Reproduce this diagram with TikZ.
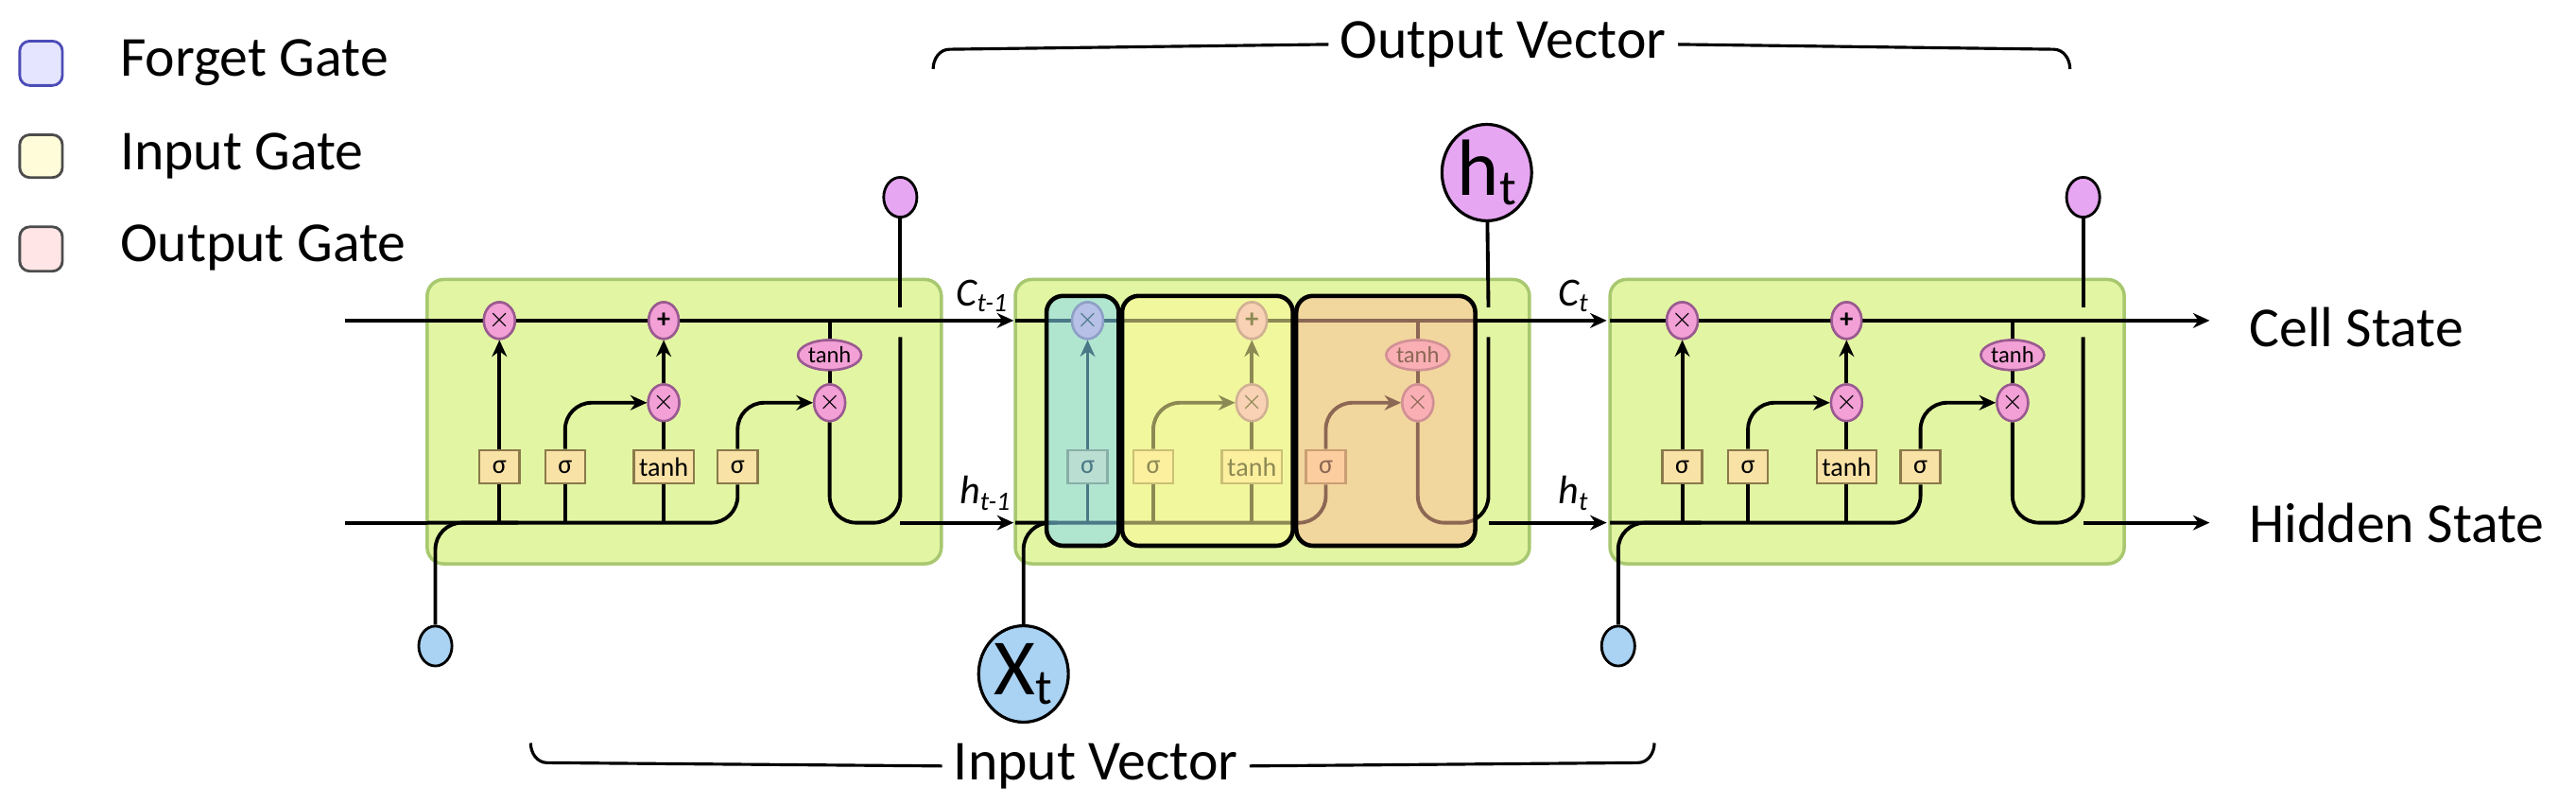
\documentclass[tikz,border=0pt]{standalone}
\usepackage{fontspec}
\setmainfont{Carlito}
\usetikzlibrary{arrows.meta,shapes.geometric}
\definecolor{cellg}{HTML}{E2F5A3}
\definecolor{cellb}{HTML}{A8C870}
\definecolor{opp}{HTML}{F2A0D6}
\definecolor{opb}{HTML}{9A5A90}
\definecolor{sgf}{HTML}{F9E2A6}
\definecolor{sgb}{HTML}{8A7A4A}
\definecolor{vio}{HTML}{E6A6F2}
\definecolor{blu}{HTML}{A9D2F3}
\tikzset{
 ln/.style={line width=1.1pt,black},
 ar/.style={ln,-{Stealth[length=5pt,width=4.5pt]}},
 rc/.style={rounded corners=8pt},
 op/.style={ellipse,draw=opb,fill=opp,line width=0.7pt,minimum width=9pt,minimum height=11pt,inner sep=0pt,font=\bfseries\footnotesize},
 sg/.style={rectangle,draw=sgb,fill=sgf,line width=0.7pt,minimum width=12pt,minimum height=10pt,inner sep=0.5pt,font=\footnotesize},
 th/.style={ellipse,draw=opb,fill=opp,line width=0.7pt,minimum width=19pt,minimum height=9pt,inner sep=0pt,font=\scriptsize},
 cell/.style={rounded corners=5pt,fill=cellg,draw=cellb,line width=1pt},
 sc/.style={ellipse,draw=black,line width=0.8pt,minimum width=10pt,minimum height=12pt,inner sep=0pt},
 bc/.style={ellipse,draw=black,line width=0.9pt,minimum width=27pt,minimum height=29pt,inner sep=0pt,font=\fontsize{24}{24}\selectfont},
 lab/.style={font=\fontsize{12}{12}\selectfont\itshape},
 big/.style={font=\fontsize{17}{17}\selectfont},
 ovl/.style={rounded corners=5pt,draw=black,line width=1.3pt,fill opacity=0.55},
}
\newcommand\lstmcell[2]{%
 \begin{scope}[xshift=#2*0.01738cm]
 \draw[cell] (260,170) rectangle (573,343);
 \node[op] (#1m1) at (304,195) {$\times$};
 \node[op] (#1a) at (404,195) {+};
 \node[op] (#1m2) at (404,245) {$\times$};
 \node[th] (#1th) at (505,216) {tanh};
 \node[op] (#1m3) at (505,245) {$\times$};
 \node[sg] (#1s1) at (304,284) {σ};
 \node[sg] (#1s2) at (344,284) {σ};
 \node[sg,minimum width=18pt] (#1tb) at (404,284) {tanh};
 \node[sg] (#1s3) at (449,284) {σ};
 \coordinate (#1in) at (265,318);
 \coordinate (#1out) at (548,318);
 \coordinate (#1top) at (548,187);
 \coordinate (#1mid) at (548,205);
 \coordinate (#1hl) at (260,318);
 \coordinate (#1c) at (505,195);
 \end{scope}
 \draw[ln,rc] (#1s3.south) |- (#1hl);
 \draw[ln] (#1s1.south) -- (#1s1.south|-#1hl);
 \draw[ln] (#1s2.south) -- (#1s2.south|-#1hl);
 \draw[ln] (#1tb.south) -- (#1tb.south|-#1hl);
 \draw[ar] (#1s1) -- (#1m1);
 \draw[ar,rc] (#1s2.north) |- (#1m2.west);
 \draw[ln] (#1tb) -- (#1m2);
 \draw[ar] (#1m2) -- (#1a);
 \draw[ar,rc] (#1s3.north) |- (#1m3.west);
 \draw[ln] (#1c) -- (#1th) -- (#1m3);
 \draw[ln,rc] (#1m3.south) |- (#1out) -- (#1mid);
 \node[op] at (#1m1) {$\times$};
 \node[op] at (#1a) {+};
 \node[op] at (#1m2) {$\times$};
 \node[th] at (#1th) {tanh};
 \node[op] at (#1m3) {$\times$};
}
\begin{document}
\begin{tikzpicture}[x=0.01738cm,y=-0.01738cm]
\useasboundingbox (0,0) rectangle (1568,489);
% legend
\draw[rounded corners=3pt,draw=blue!60!black!70,fill=blue!10,line width=0.8pt] (12,25) rectangle (38,52);
\node[big,anchor=west] (lf) at (66,38) {Forget Gate};
\draw[rounded corners=3pt,draw=black!70,fill=yellow!15,line width=0.8pt] (12,82) rectangle (38,108);
\node[big,anchor=west] (li) at (66,95) {Input Gate};
\draw[rounded corners=3pt,draw=black!70,fill=pink!40,line width=0.8pt] (12,138) rectangle (38,165);
\node[big,anchor=west] (lo) at (66,151) {Output Gate};
% cell state line
\coordinate (c0) at (210,195);
\coordinate (c1) at (617,195);
\coordinate (c1b) at (618,195);
\coordinate (c2) at (978,195);
\coordinate (c2b) at (980,195);
\coordinate (c3) at (1345,195);
\coordinate (h0) at (210,318);
\lstmcell{A}{0}
\lstmcell{B}{358}
\lstmcell{C}{720}
\draw[ar] (c0) -- (c1);
\draw[ar] (c1b) -- (c2);
\draw[ar] (c2b) -- (c3);
\foreach \p in {A,B,C}{
 \node[op] at (\p m1) {$\times$};
 \node[op] at (\p a) {+};
}
% hidden lines
\draw[ln] (h0) -- (Ahl);
\coordinate (Ahe) at (617,318);
\coordinate (Bhe) at (978,318);
\coordinate (Che) at (1345,318);
\draw[ar] (Aout) -- (Ahe);
\draw[ar] (Bout) -- (Bhe);
\draw[ar] (Cout) -- (Che);
% inputs
\node[sc,fill=blu] (Ax) at (265,393) {};
\node[bc,fill=blu] (Bx) at (623,410) {X\raisebox{-0.25ex}{\fontsize{15}{15}\selectfont t}};
\node[sc,fill=blu] (Cx) at (985,393) {};
\draw[ln,rc] (Ax.north) |- ([xshift=25pt]Ain);
\draw[ln,rc] (Bx.north) |- ([xshift=10pt]Bin);
\draw[ln,rc] (Cx.north) |- ([xshift=25pt]Cin);
% outputs
\node[sc,fill=vio] (Ay) at (548,120) {};
\node[bc,fill=vio] (By) at (905,105) {h\raisebox{-0.25ex}{\fontsize{15}{15}\selectfont t}};
\node[sc,fill=vio] (Cy) at (1268,120) {};
\draw[ln] (Ay) -- (Atop);
\draw[ln] (By) -- (Btop);
\draw[ln] (Cy) -- (Ctop);
% overlays
\draw[ovl,fill=blu!80!cyan] (637,180) rectangle (681,332);
\draw[ovl,fill=yellow!40] (683,180) rectangle (787,332);
\draw[ovl,fill=red!30!orange!40] (789,180) rectangle (898,332);
% labels
\node[lab] (lc1) at (598,180) {C\textsubscript{t-1}};
\node[lab] (lh1) at (600,300) {h\textsubscript{t-1}};
\node[lab] (lc2) at (958,180) {C\textsubscript{t}};
\node[lab] (lh2) at (958,300) {h\textsubscript{t}};
\node[big,anchor=west] (cs) at (1362,199) {Cell State};
\node[big,anchor=west] (hs) at (1362,318) {Hidden State};
% braces
\node[big] (ov) at (915,27) {Output Vector};
\draw[ln,line width=0.9pt] (ov.west) -- (578,30) to[out=180,in=90] (568,42);
\draw[ln,line width=0.9pt] (ov.east) -- (1250,30) to[out=0,in=90] (1260,42);
\node[big] (iv) at (667,466) {Input Vector};
\draw[ln,line width=0.9pt] (iv.west) -- (333,464) to[out=180,in=-90] (323,452);
\draw[ln,line width=0.9pt] (iv.east) -- (997,464) to[out=0,in=-90] (1007,452);
\end{tikzpicture}
\end{document}
